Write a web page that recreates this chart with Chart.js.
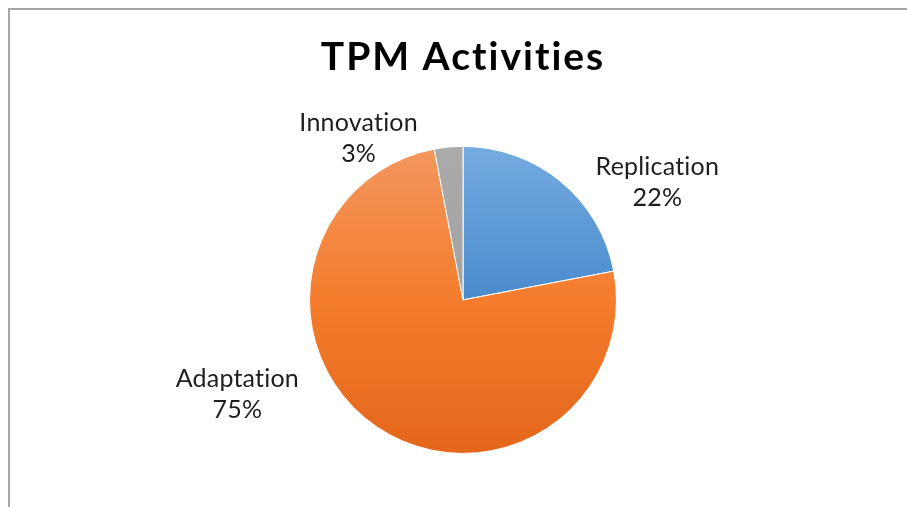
<!DOCTYPE html>
<html lang="en">
<head>
    <meta charset="UTF-8">
    <title>TPM Activities</title>
    <script src="https://cdn.jsdelivr.net/npm/chart.js"></script>
    <style>
        html, body {
            margin: 0;
            padding: 0;
            background: #fff;
        }
        .wrap {
            position: relative;
            width: 907px;
            height: 507px;
            overflow: hidden;
        }
        .frame {
            position: absolute;
            left: 8px;
            top: 8px;
            right: -10px;
            bottom: -10px;
            border-top: 2px solid #a6a6a6;
            border-left: 2px solid #a6a6a6;
        }
        #pie {
            position: absolute;
            left: 0;
            top: 0;
        }
    </style>
</head>
<body>
    <div class="wrap">
        <div class="frame"></div>
        <canvas id="pie" width="907" height="507"></canvas>
    </div>
    <script>
        const categories = ['Replication', 'Adaptation', 'Innovation'];
        const shares = [22, 75, 3];
        const percentLabels = ['22%', '75%', '3%'];

        const FONT = 'Lato, "Open Sans", sans-serif';

        // vertical gradients, light at the top of the pie, darker at the bottom
        const gradientStops = [
            [[0, '#74abe0'], [0.5, '#4a8bcd'], [1, '#3b78b8']],
            [[0, '#f3975f'], [0.5, '#f47c2c'], [1, '#e4661a']],
            [[0, '#ababab'], [1, '#9a9a9a']]
        ];

        function sliceColor(context) {
            const chart = context.chart;
            const area = chart.chartArea;
            if (!area) return '#ccc';
            const g = chart.ctx.createLinearGradient(0, area.top, 0, area.bottom);
            gradientStops[context.dataIndex].forEach(s => g.addColorStop(s[0], s[1]));
            return g;
        }

        // a little letter spacing: wider like the original and no "ti" ligature
        const spacing = {
            id: 'spacing',
            beforeDraw(chart, args, opts) {
                chart.ctx.letterSpacing = opts.title + 'px';
            }
        };

        // draws "Name / nn%" text next to each slice
        const sliceLabels = {
            id: 'sliceLabels',
            afterDatasetsDraw(chart, args, opts) {
                const ctx = chart.ctx;
                const arcs = chart.getDatasetMeta(0).data;
                ctx.save();
                ctx.letterSpacing = opts.spacing + 'px';
                ctx.font = opts.size + 'px ' + FONT;
                ctx.fillStyle = opts.color;
                ctx.textAlign = 'center';
                ctx.textBaseline = 'alphabetic';
                arcs.forEach((arc, i) => {
                    const off = opts.offsets[i];
                    const r = arc.outerRadius;
                    const x = arc.x + off[0] * r;
                    const y = arc.y + off[1] * r;
                    ctx.fillText(categories[i], x, y - 8);
                    ctx.fillText(percentLabels[i], x, y - 8 + opts.lineGap);
                });
                ctx.restore();
            }
        };

        new Chart(document.getElementById('pie'), {
            type: 'pie',
            data: {
                labels: categories,
                datasets: [{
                    data: shares,
                    backgroundColor: sliceColor,
                    borderColor: '#ffffff',
                    borderWidth: 1
                }]
            },
            options: {
                responsive: false,
                animation: false,
                layout: {
                    padding: { left: 309, right: 290, top: 12, bottom: 53 }
                },
                plugins: {
                    legend: { display: false },
                    tooltip: { enabled: false },
                    title: {
                        display: true,
                        text: 'TPM Activities',
                        color: '#000',
                        font: { family: FONT, size: 39, weight: 'bold', lineHeight: 1.2 },
                        padding: { top: 22, bottom: 65 }
                    },
                    spacing: { title: 2 },
                    sliceLabels: {
                        size: 25,
                        spacing: 0.2,
                        color: '#1e1e1e',
                        lineGap: 31,
                        offsets: [[1.266, -0.76], [-1.47, 0.617], [-0.68, -1.045]]
                    }
                }
            },
            plugins: [spacing, sliceLabels]
        });
    </script>
</body>
</html>
